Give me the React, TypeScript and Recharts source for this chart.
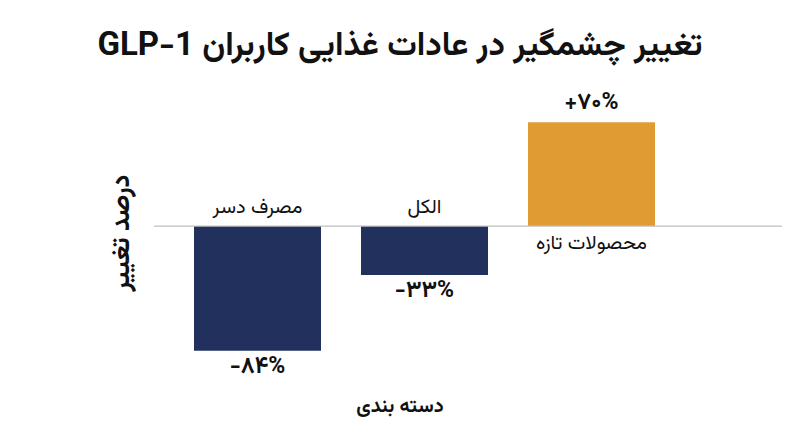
import { Bar, BarChart, Cell, LabelList, ReferenceLine, XAxis, YAxis } from 'recharts';

const categories = ['مصرف دسر', 'الکل', 'محصولات تازه'];
const changes = [-84, -33, 70];
const valueLabels = ['-۸۴%', '-۳۳%', '+۷۰%'];
const barColors = ['#22305E', '#22305E', '#E09B32'];

const data = categories.map((name, i) => ({ name, value: changes[i], label: valueLabels[i] }));

const FONT = "Vazirmatn, 'DejaVu Sans', sans-serif";

const ValueLabel = (props: any) => {
  const { x, y, width, height, index } = props;
  const top = Math.min(y, y + height);
  const bottom = Math.max(y, y + height);
  const neg = changes[index] < 0;
  return (
    <text
      x={x + width / 2}
      y={neg ? bottom + 16 : top - 19}
      textAnchor="middle"
      dominantBaseline="central"
      fontFamily={FONT}
      fontWeight="bold"
      fontSize={23}
      fill="#111"
    >
      {valueLabels[index]}
    </text>
  );
};

const CategoryLabel = (props: any) => {
  const { x, y, width, height, index } = props;
  const top = Math.min(y, y + height);
  const bottom = Math.max(y, y + height);
  const neg = changes[index] < 0;
  return (
    <text
      x={x + width / 2}
      y={neg ? top - 18 : bottom + 18}
      textAnchor="middle"
      dominantBaseline="central"
      fontFamily={FONT}
      fontSize={20}
      fill="#111"
    >
      {categories[index]}
    </text>
  );
};

export default function App() {
  return (
    <div style={{ position: 'absolute', left: 0, top: 0, width: 800, height: 447, background: '#fff' }}>
      <div
        dir="rtl"
        style={{
          position: 'absolute', left: 0, top: 26, width: 800, textAlign: 'center',
          fontFamily: FONT, fontWeight: 'bold', fontSize: 33, lineHeight: '42px', color: '#111',
        }}
      >
        تغییر چشمگیر در عادات غذایی کاربران GLP-1
      </div>
      <div
        dir="rtl"
        style={{
          position: 'absolute', left: 123 - 80, top: 233 - 17, width: 160, height: 34, lineHeight: '34px',
          textAlign: 'center', transform: 'rotate(-90deg)',
          fontFamily: FONT, fontWeight: 'bold', fontSize: 26, color: '#111',
        }}
      >
        درصد تغییر
      </div>
      <div
        dir="rtl"
        style={{
          position: 'absolute', left: 0, top: 391, width: 800, textAlign: 'center', lineHeight: '32px',
          fontFamily: FONT, fontWeight: 'bold', fontSize: 20, color: '#111',
        }}
      >
        دسته بندی
      </div>
      <BarChart
        width={800}
        height={447}
        data={data}
        margin={{ top: 88, right: 18, bottom: 68, left: 154 }}
        barCategoryGap={20}
        style={{ position: 'absolute', left: 0, top: 0 }}
      >
        <XAxis dataKey="name" hide padding={{ left: 20, right: 107 }} />
        <YAxis
          width={0}
          domain={[-103, 93]}
          tick={false}
          tickLine={false}
          axisLine={{ stroke: '#bfbfbf', strokeWidth: 1.2 }}
        />
        <ReferenceLine y={0} stroke="#bfbfbf" strokeWidth={1.2} />
        <Bar dataKey="value" isAnimationActive={false}>
          {data.map((d, i) => (
            <Cell key={d.name} fill={barColors[i]} />
          ))}
          <LabelList dataKey="label" content={ValueLabel} />
          <LabelList dataKey="name" content={CategoryLabel} />
        </Bar>
      </BarChart>
    </div>
  );
}
